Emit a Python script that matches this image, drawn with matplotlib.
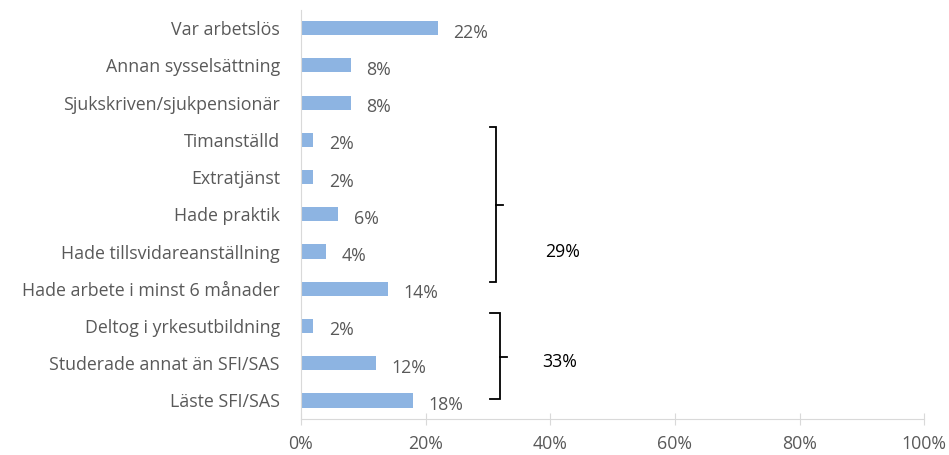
import matplotlib
matplotlib.use("Agg")
from matplotlib import pyplot as plt
from matplotlib.ticker import PercentFormatter

categories = [
    "Var arbetslös",
    "Annan sysselsättning",
    "Sjukskriven/sjukpensionär",
    "Timanställd",
    "Extratjänst",
    "Hade praktik",
    "Hade tillsvidareanställning",
    "Hade arbete i minst 6 månader",
    "Deltog i yrkesutbildning",
    "Studerade annat än SFI/SAS",
    "Läste SFI/SAS",
]
values = [22, 8, 8, 2, 2, 6, 4, 14, 2, 12, 18]
group_labels = ["29%", "33%"]

plt.rcParams["font.family"] = ["Open Sans", "DejaVu Sans"]
grey = "#595959"
axis_grey = "#D9D9D9"
fs = 12.8

fig = plt.figure(figsize=(9.49, 4.55), dpi=100)
ax = fig.add_axes([0.317, 0.079, 0.657, 0.9])

pos = list(range(len(categories)))
ax.barh(pos, values, height=0.38, color="#8DB4E2")
for y, v in zip(pos, values):
    ax.text(v + 2.5, y + 0.12, f"{v}%", va="center", ha="left", fontsize=fs, color=grey)

ax.set_xlim(0, 100)
ax.set_ylim(len(categories) - 0.5, -0.5)
ax.set_yticks(pos)
ax.set_yticklabels(categories, fontsize=fs, color=grey)
ax.set_xticks(range(0, 101, 20))
ax.xaxis.set_major_formatter(PercentFormatter(decimals=0))
ax.tick_params(axis="x", direction="inout", length=9, color=axis_grey, labelsize=fs,
               labelcolor=grey, pad=7)
ax.tick_params(axis="y", length=0, pad=15)
for s in ["top", "right"]:
    ax.spines[s].set_visible(False)
ax.spines["left"].set_color(axis_grey)
ax.spines["bottom"].set_color(axis_grey)


def bracket(x_left, x_mid, x_tip, y_top, y_bot, y_tip):
    ax.plot([x_left, x_mid, x_mid, x_left], [y_top, y_top, y_bot, y_bot],
            color="black", lw=1.3, clip_on=False, solid_joinstyle="miter")
    ax.plot([x_mid, x_tip], [y_tip, y_tip], color="black", lw=1.3, clip_on=False)


bracket(30.3, 31.3, 32.4, 2.66, 6.83, 4.76)
bracket(30.3, 31.9, 33.1, 7.66, 9.95, 8.84)
ax.text(42.0, 6.02, group_labels[0], ha="center", va="center", fontsize=fs, color="black")
ax.text(41.5, 8.98, group_labels[1], ha="center", va="center", fontsize=fs, color="black")

fig.savefig("out.png", dpi=100)
